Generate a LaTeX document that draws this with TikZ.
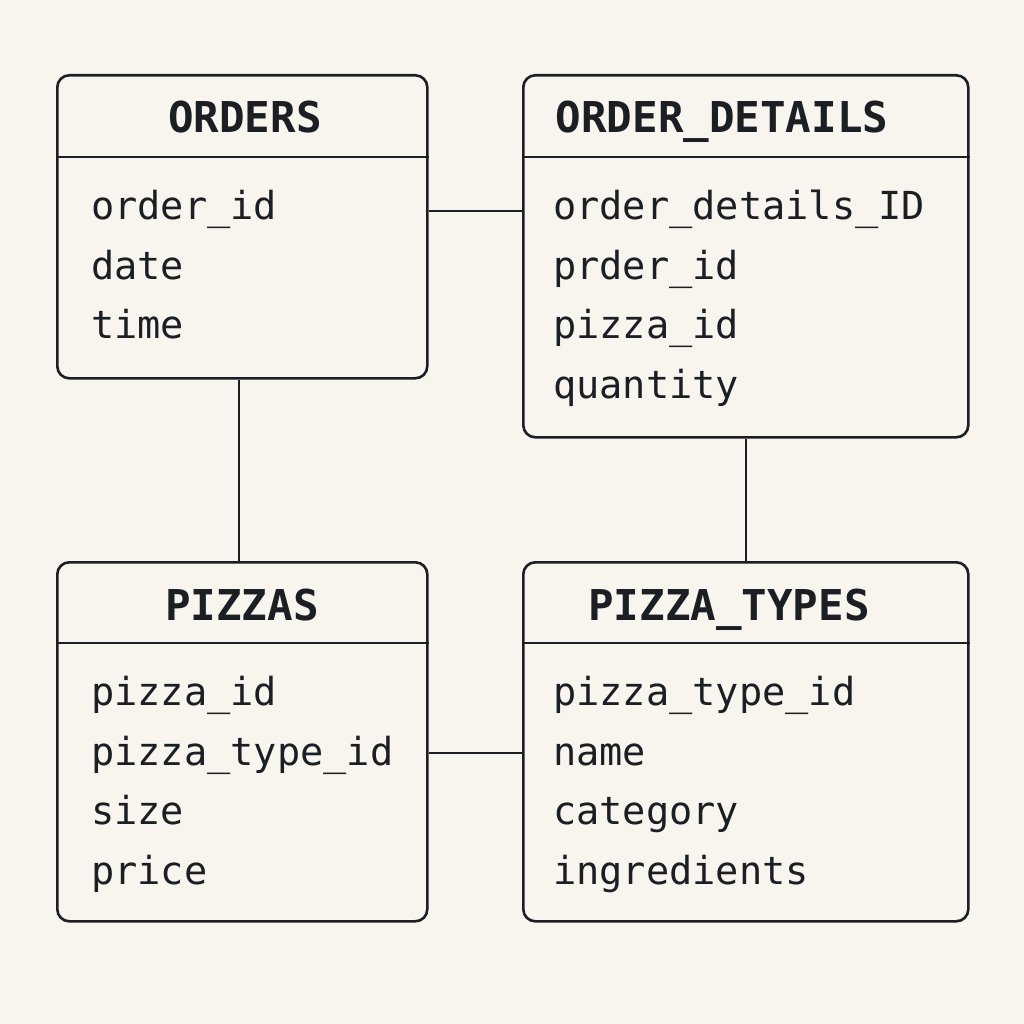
\documentclass[tikz,border=0pt]{standalone}
\usepackage{fontspec}
\setmonofont{DejaVu Sans Mono}
\definecolor{bg}{HTML}{F8F5EF}
\definecolor{ink}{HTML}{1B1E22}
\tikzset{
  tbl/.style={draw=ink, line width=2.6pt, rounded corners=12pt, anchor=north west, inner sep=0pt},
  hdr/.style={anchor=base, inner sep=0pt, text=ink, font=\ttfamily\bfseries\fontsize{42.5}{50}\selectfont},
  fld/.style={anchor=base west, inner sep=0pt, text=ink, font=\ttfamily\fontsize{38.6}{46}\selectfont},
  sep/.style={draw=ink, line width=2.4pt},
  link/.style={draw=ink, line width=2.4pt}
}
\begin{document}
\begin{tikzpicture}[x=1pt,y=-1pt]
\fill[bg] (0,0) rectangle (1024,1024);
\useasboundingbox (0,0) rectangle (1024,1024);
% tables
\node[tbl, minimum width=370pt, minimum height=303pt] (orders) at (56,74) {};
\node[tbl, minimum width=445pt, minimum height=362pt] (details) at (522,74) {};
\node[tbl, minimum width=370pt, minimum height=359pt] (pizzas) at (56,561) {};
\node[tbl, minimum width=445pt, minimum height=359pt] (types) at (522,561) {};
% header separators
\draw[sep] (orders.west |- {(0,157)}) -- (orders.east |- {(0,157)});
\draw[sep] (details.west |- {(0,157)}) -- (details.east |- {(0,157)});
\draw[sep] (pizzas.west |- {(0,643)}) -- (pizzas.east |- {(0,643)});
\draw[sep] (types.west |- {(0,643)}) -- (types.east |- {(0,643)});
% headers
\node[hdr] (h1) at (245,133) {ORDERS};
\node[hdr] (h2) at (722,133) {ORDER\_DETAILS};
\node[hdr] (h3) at (242,620) {PIZZAS};
\node[hdr] (h4) at (729,620) {PIZZA\_TYPES};
% fields
\node[fld] (o1) at (91,219) {order\_id};
\node[fld] (o2) at (91,279) {date};
\node[fld] (o3) at (91,338) {time};
\node[fld] (d1) at (553,219) {order\_details\_ID};
\node[fld] (d2) at (553,279) {prder\_id};
\node[fld] (d3) at (553,338) {pizza\_id};
\node[fld] (d4) at (553,398) {quantity};
\node[fld] (p1) at (91,705) {pizza\_id};
\node[fld] (p2) at (91,765) {pizza\_type\_id};
\node[fld] (p3) at (91,824) {size};
\node[fld] (p4) at (91,884) {price};
\node[fld] (t1) at (553,705) {pizza\_type\_id};
\node[fld] (t2) at (553,765) {name};
\node[fld] (t3) at (553,824) {category};
\node[fld] (t4) at (553,884) {ingredients};
% connectors
\draw[link] (orders.east |- {(0,211)}) -- (details.west |- {(0,211)});
\draw[link] (orders.south -| {(239,0)}) -- (pizzas.north -| {(239,0)});
\draw[link] (details.south) -- (types.north);
\draw[link] (pizzas.east |- {(0,753)}) -- (types.west |- {(0,753)});
\end{tikzpicture}
\end{document}
